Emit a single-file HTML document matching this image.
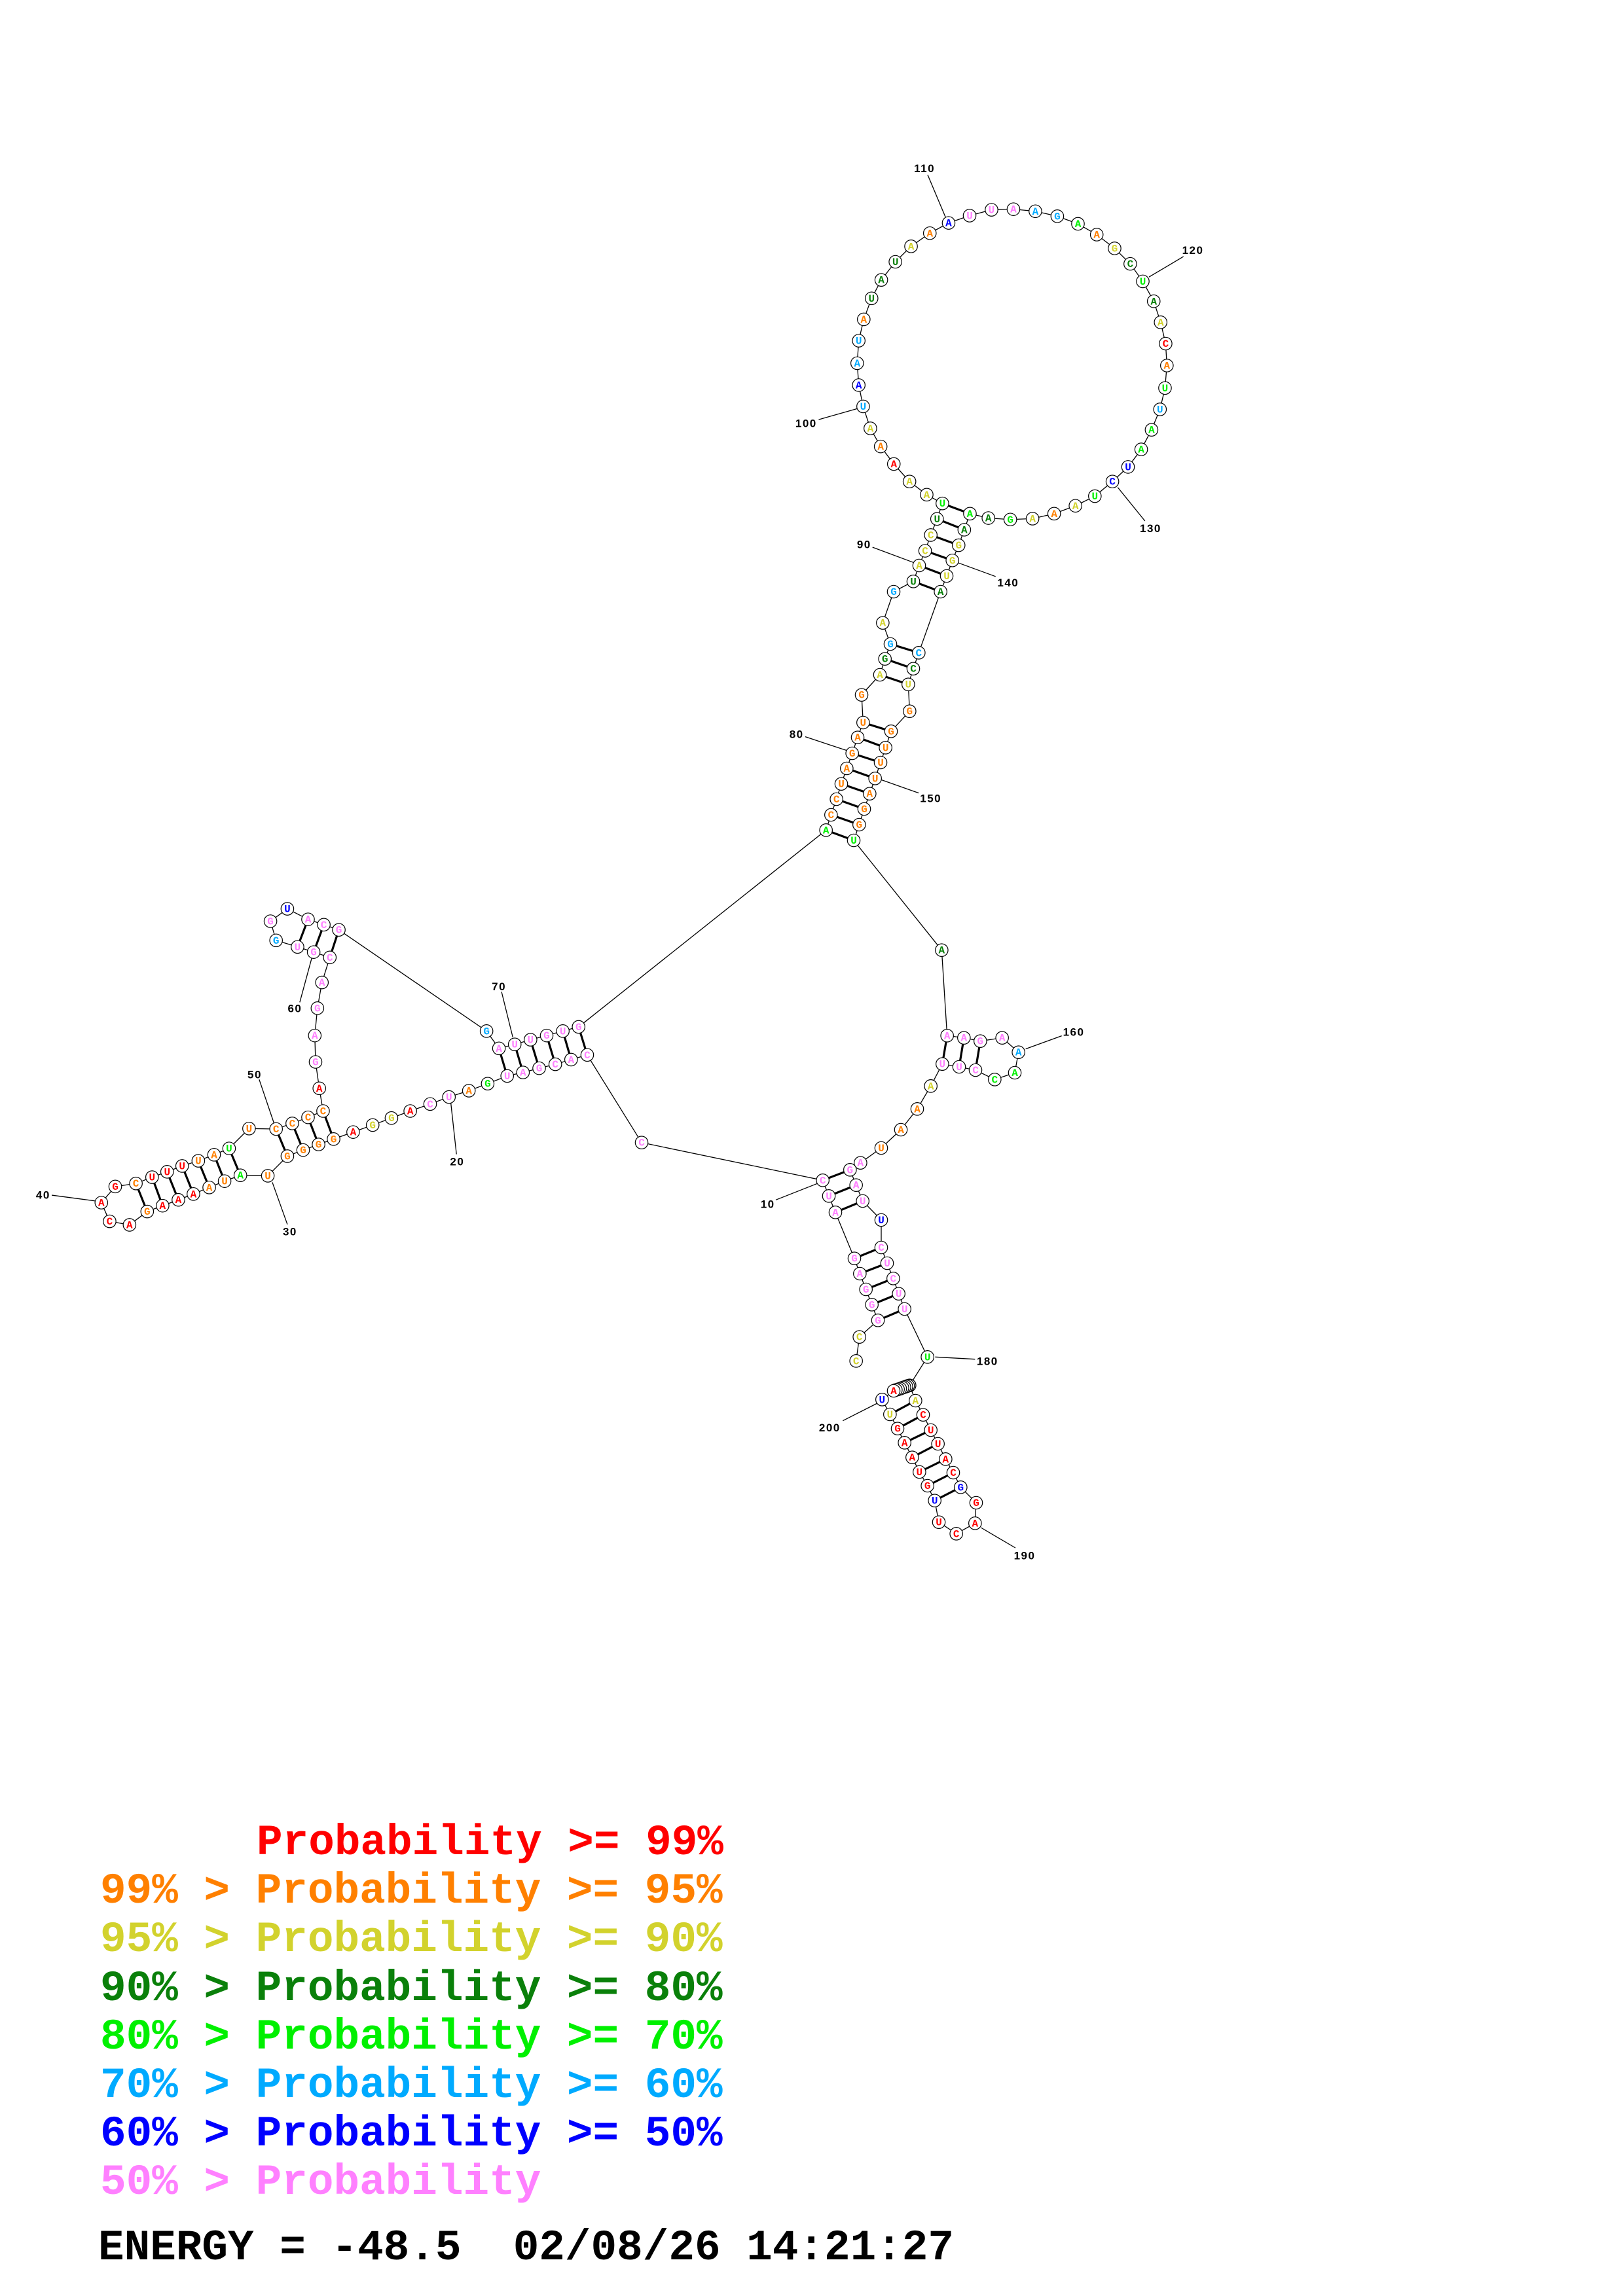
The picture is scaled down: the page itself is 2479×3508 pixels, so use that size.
<!DOCTYPE html>
<html><head><meta charset="utf-8"><style>
html,body{margin:0;padding:0;background:#fff}
svg{display:block}
.bb{fill:none;stroke:#000;stroke-width:1.3px;vector-effect:non-scaling-stroke}
.pr{fill:none;stroke:#000;stroke-width:3.2px;vector-effect:non-scaling-stroke}
circle{fill:#fff;stroke:#000;stroke-width:1.2px;vector-effect:non-scaling-stroke}
.n text{font-family:"Liberation Mono",monospace;font-weight:bold;font-size:16px;text-anchor:middle}
.lb{font-family:"Liberation Sans",sans-serif;font-weight:bold;font-size:17px;letter-spacing:1.5px;text-anchor:middle;fill:#000}
.r{fill:#ff0000}.o{fill:#ff8000}.y{fill:#d2d22d}.d{fill:#0a800a}.l{fill:#00f000}.s{fill:#00aaff}.b{fill:#0000ff}.p{fill:#ff80ff}
.lg{font-family:"Liberation Mono",monospace;font-weight:bold;font-size:66px;white-space:pre}
</style></head><body>
<svg width="2479" height="3508" viewBox="0 0 2479 3508" xmlns="http://www.w3.org/2000/svg">
<rect width="2479" height="3508" fill="#fff"/>
<!-- cross-group lines -->
<path class="bb" d="M980 1745.7L897 1612M883.8 1569L1261.7 1268.3M1404 864L1413.1 841.5M1454.7 856.3L1446 880"/>

<!-- GROUP A (loop) -->
<g transform="translate(1150 200) scale(0.47831 0.44643)">
<polyline class="bb" points="550,1437 568,1383 588,1328 605,1275 555,1245 500,1200 450,1140 408,1080 375,1018 352,943 338,870 333,795 338,718 354,645 379,573 410,510 455,448 505,395 565,350 625,315 692,290 762,270 832,268 902,275 972,292 1038,318 1098,355 1155,402 1205,455 1245,515 1280,583 1302,655 1318,728 1322,803 1316,880 1300,953 1273,1023 1240,1090 1198,1150 1148,1200 1092,1250 1030,1283 962,1310 893,1327 822,1330 752,1325 693,1310 675,1365 657,1418 637,1470"/>
<path class="pr" d="M550 1437L637 1470M568 1383L657 1418M588 1328L675 1365M605 1275L693 1310"/>
<path class="bb" d="M558 150L615 295M1375 430L1265 500M210 988L335 950M1252 1335L1165 1220M382 1425L515 1478M775 1525L655 1478"/>
<g transform="translate(548 128) scale(2.0907 2.24)"><text class="lb" y="6">110</text></g>
<g transform="translate(1405 408) scale(2.0907 2.24)"><text class="lb" y="6">120</text></g>
<g transform="translate(170 1000) scale(2.0907 2.24)"><text class="lb" y="6">100</text></g>
<g transform="translate(1270 1360) scale(2.0907 2.24)"><text class="lb" y="6">130</text></g>
<g transform="translate(355 1415) scale(2.0907 2.24)"><text class="lb" y="6">90</text></g>
<g transform="translate(815 1545) scale(2.0907 2.24)"><text class="lb" y="6">140</text></g>
<g class="n">
<g transform="translate(550 1437) scale(2.0907 2.24)"><circle r="9.7"/><text class="y" y="5">C</text></g>
<g transform="translate(568 1383) scale(2.0907 2.24)"><circle r="9.7"/><text class="y" y="5">C</text></g>
<g transform="translate(588 1328) scale(2.0907 2.24)"><circle r="9.7"/><text class="d" y="5">U</text></g>
<g transform="translate(605 1275) scale(2.0907 2.24)"><circle r="9.7"/><text class="l" y="5">U</text></g>
<g transform="translate(555 1245) scale(2.0907 2.24)"><circle r="9.7"/><text class="y" y="5">A</text></g>
<g transform="translate(500 1200) scale(2.0907 2.24)"><circle r="9.7"/><text class="y" y="5">A</text></g>
<g transform="translate(450 1140) scale(2.0907 2.24)"><circle r="9.7"/><text class="r" y="5">A</text></g>
<g transform="translate(408 1080) scale(2.0907 2.24)"><circle r="9.7"/><text class="o" y="5">A</text></g>
<g transform="translate(375 1018) scale(2.0907 2.24)"><circle r="9.7"/><text class="y" y="5">A</text></g>
<g transform="translate(352 943) scale(2.0907 2.24)"><circle r="9.7"/><text class="s" y="5">U</text></g>
<g transform="translate(338 870) scale(2.0907 2.24)"><circle r="9.7"/><text class="b" y="5">A</text></g>
<g transform="translate(333 795) scale(2.0907 2.24)"><circle r="9.7"/><text class="s" y="5">A</text></g>
<g transform="translate(338 718) scale(2.0907 2.24)"><circle r="9.7"/><text class="s" y="5">U</text></g>
<g transform="translate(354 645) scale(2.0907 2.24)"><circle r="9.7"/><text class="o" y="5">A</text></g>
<g transform="translate(379 573) scale(2.0907 2.24)"><circle r="9.7"/><text class="d" y="5">U</text></g>
<g transform="translate(410 510) scale(2.0907 2.24)"><circle r="9.7"/><text class="d" y="5">A</text></g>
<g transform="translate(455 448) scale(2.0907 2.24)"><circle r="9.7"/><text class="d" y="5">U</text></g>
<g transform="translate(505 395) scale(2.0907 2.24)"><circle r="9.7"/><text class="y" y="5">A</text></g>
<g transform="translate(565 350) scale(2.0907 2.24)"><circle r="9.7"/><text class="o" y="5">A</text></g>
<g transform="translate(625 315) scale(2.0907 2.24)"><circle r="9.7"/><text class="b" y="5">A</text></g>
<g transform="translate(692 290) scale(2.0907 2.24)"><circle r="9.7"/><text class="p" y="5">U</text></g>
<g transform="translate(762 270) scale(2.0907 2.24)"><circle r="9.7"/><text class="p" y="5">U</text></g>
<g transform="translate(832 268) scale(2.0907 2.24)"><circle r="9.7"/><text class="p" y="5">A</text></g>
<g transform="translate(902 275) scale(2.0907 2.24)"><circle r="9.7"/><text class="s" y="5">A</text></g>
<g transform="translate(972 292) scale(2.0907 2.24)"><circle r="9.7"/><text class="s" y="5">G</text></g>
<g transform="translate(1038 318) scale(2.0907 2.24)"><circle r="9.7"/><text class="l" y="5">A</text></g>
<g transform="translate(1098 355) scale(2.0907 2.24)"><circle r="9.7"/><text class="o" y="5">A</text></g>
<g transform="translate(1155 402) scale(2.0907 2.24)"><circle r="9.7"/><text class="y" y="5">G</text></g>
<g transform="translate(1205 455) scale(2.0907 2.24)"><circle r="9.7"/><text class="d" y="5">C</text></g>
<g transform="translate(1245 515) scale(2.0907 2.24)"><circle r="9.7"/><text class="l" y="5">U</text></g>
<g transform="translate(1280 583) scale(2.0907 2.24)"><circle r="9.7"/><text class="d" y="5">A</text></g>
<g transform="translate(1302 655) scale(2.0907 2.24)"><circle r="9.7"/><text class="y" y="5">A</text></g>
<g transform="translate(1318 728) scale(2.0907 2.24)"><circle r="9.7"/><text class="r" y="5">C</text></g>
<g transform="translate(1322 803) scale(2.0907 2.24)"><circle r="9.7"/><text class="o" y="5">A</text></g>
<g transform="translate(1316 880) scale(2.0907 2.24)"><circle r="9.7"/><text class="l" y="5">U</text></g>
<g transform="translate(1300 953) scale(2.0907 2.24)"><circle r="9.7"/><text class="s" y="5">U</text></g>
<g transform="translate(1273 1023) scale(2.0907 2.24)"><circle r="9.7"/><text class="l" y="5">A</text></g>
<g transform="translate(1240 1090) scale(2.0907 2.24)"><circle r="9.7"/><text class="l" y="5">A</text></g>
<g transform="translate(1198 1150) scale(2.0907 2.24)"><circle r="9.7"/><text class="b" y="5">U</text></g>
<g transform="translate(1148 1200) scale(2.0907 2.24)"><circle r="9.7"/><text class="b" y="5">C</text></g>
<g transform="translate(1092 1250) scale(2.0907 2.24)"><circle r="9.7"/><text class="l" y="5">U</text></g>
<g transform="translate(1030 1283) scale(2.0907 2.24)"><circle r="9.7"/><text class="y" y="5">A</text></g>
<g transform="translate(962 1310) scale(2.0907 2.24)"><circle r="9.7"/><text class="o" y="5">A</text></g>
<g transform="translate(893 1327) scale(2.0907 2.24)"><circle r="9.7"/><text class="y" y="5">A</text></g>
<g transform="translate(822 1330) scale(2.0907 2.24)"><circle r="9.7"/><text class="l" y="5">G</text></g>
<g transform="translate(752 1325) scale(2.0907 2.24)"><circle r="9.7"/><text class="d" y="5">A</text></g>
<g transform="translate(693 1310) scale(2.0907 2.24)"><circle r="9.7"/><text class="l" y="5">A</text></g>
<g transform="translate(675 1365) scale(2.0907 2.24)"><circle r="9.7"/><text class="d" y="5">A</text></g>
<g transform="translate(657 1418) scale(2.0907 2.24)"><circle r="9.7"/><text class="y" y="5">G</text></g>
<g transform="translate(637 1470) scale(2.0907 2.24)"><circle r="9.7"/><text class="y" y="5">G</text></g>
</g>
</g>

<!-- GROUP C (left) -->
<g transform="translate(40 1360) scale(0.57399 0.35714)">
<polyline class="bb" points="1493,705 1450,725 1408,745 1365,762 1322,780 1280,795 1228,828 1178,858 1125,885 1075,915 1022,945 972,975 922,1005 870,1035 818,1065 778,1088 737,1112 695,1138 643,1222 570,1220 528,1245 487,1272 445,1300 405,1325 363,1350 322,1375 275,1432 222,1417 200,1337 237,1268 292,1255 335,1228 375,1205 415,1180 458,1158 500,1132 540,1105 593,1020 665,1022 708,998 750,972 790,945 780,848 770,735 768,622 775,505 787,395 808,288 765,265 722,243 665,215 650,133 695,80 750,125 792,148 832,170 1225,603 1258,677 1300,660 1342,640 1385,622 1428,603 1470,585"/>
<path class="pr" d="M1493 705L1470 585M1450 725L1428 603M1408 745L1385 622M1365 762L1342 640M1322 780L1300 660M1280 795L1258 677M818 1065L790 945M778 1088L750 972M737 1112L708 998M695 1138L665 1022M570 1220L540 1105M528 1245L500 1132M487 1272L458 1158M445 1300L415 1180M405 1325L375 1205M363 1350L335 1228M322 1375L292 1255M808 288L832 170M765 265L792 148M722 243L750 125"/>
<path class="bb" d="M1265 435L1295 630M728 480L760 290M620 810L660 1000M68 1305L185 1330M695 1430L655 1250M1145 1130L1130 910"/>
<g transform="translate(1258 412) scale(1.7422 2.8)"><text class="lb" y="6">70</text></g>
<g transform="translate(715 505) scale(1.7422 2.8)"><text class="lb" y="6">60</text></g>
<g transform="translate(608 788) scale(1.7422 2.8)"><text class="lb" y="6">50</text></g>
<g transform="translate(45 1303) scale(1.7422 2.8)"><text class="lb" y="6">40</text></g>
<g transform="translate(702 1460) scale(1.7422 2.8)"><text class="lb" y="6">30</text></g>
<g transform="translate(1147 1160) scale(1.7422 2.8)"><text class="lb" y="6">20</text></g>
<g class="n">
<g transform="translate(1493 705) scale(1.7422 2.8)"><circle r="9.7"/><text class="p" y="5">C</text></g>
<g transform="translate(1450 725) scale(1.7422 2.8)"><circle r="9.7"/><text class="p" y="5">A</text></g>
<g transform="translate(1408 745) scale(1.7422 2.8)"><circle r="9.7"/><text class="p" y="5">C</text></g>
<g transform="translate(1365 762) scale(1.7422 2.8)"><circle r="9.7"/><text class="p" y="5">G</text></g>
<g transform="translate(1322 780) scale(1.7422 2.8)"><circle r="9.7"/><text class="p" y="5">A</text></g>
<g transform="translate(1280 795) scale(1.7422 2.8)"><circle r="9.7"/><text class="p" y="5">U</text></g>
<g transform="translate(1228 828) scale(1.7422 2.8)"><circle r="9.7"/><text class="l" y="5">G</text></g>
<g transform="translate(1178 858) scale(1.7422 2.8)"><circle r="9.7"/><text class="o" y="5">A</text></g>
<g transform="translate(1125 885) scale(1.7422 2.8)"><circle r="9.7"/><text class="p" y="5">U</text></g>
<g transform="translate(1075 915) scale(1.7422 2.8)"><circle r="9.7"/><text class="p" y="5">C</text></g>
<g transform="translate(1022 945) scale(1.7422 2.8)"><circle r="9.7"/><text class="r" y="5">A</text></g>
<g transform="translate(972 975) scale(1.7422 2.8)"><circle r="9.7"/><text class="y" y="5">G</text></g>
<g transform="translate(922 1005) scale(1.7422 2.8)"><circle r="9.7"/><text class="y" y="5">G</text></g>
<g transform="translate(870 1035) scale(1.7422 2.8)"><circle r="9.7"/><text class="r" y="5">A</text></g>
<g transform="translate(818 1065) scale(1.7422 2.8)"><circle r="9.7"/><text class="o" y="5">G</text></g>
<g transform="translate(778 1088) scale(1.7422 2.8)"><circle r="9.7"/><text class="o" y="5">G</text></g>
<g transform="translate(737 1112) scale(1.7422 2.8)"><circle r="9.7"/><text class="o" y="5">G</text></g>
<g transform="translate(695 1138) scale(1.7422 2.8)"><circle r="9.7"/><text class="o" y="5">G</text></g>
<g transform="translate(643 1222) scale(1.7422 2.8)"><circle r="9.7"/><text class="o" y="5">U</text></g>
<g transform="translate(570 1220) scale(1.7422 2.8)"><circle r="9.7"/><text class="l" y="5">A</text></g>
<g transform="translate(528 1245) scale(1.7422 2.8)"><circle r="9.7"/><text class="o" y="5">U</text></g>
<g transform="translate(487 1272) scale(1.7422 2.8)"><circle r="9.7"/><text class="o" y="5">A</text></g>
<g transform="translate(445 1300) scale(1.7422 2.8)"><circle r="9.7"/><text class="r" y="5">A</text></g>
<g transform="translate(405 1325) scale(1.7422 2.8)"><circle r="9.7"/><text class="r" y="5">A</text></g>
<g transform="translate(363 1350) scale(1.7422 2.8)"><circle r="9.7"/><text class="r" y="5">A</text></g>
<g transform="translate(322 1375) scale(1.7422 2.8)"><circle r="9.7"/><text class="o" y="5">G</text></g>
<g transform="translate(275 1432) scale(1.7422 2.8)"><circle r="9.7"/><text class="r" y="5">A</text></g>
<g transform="translate(222 1417) scale(1.7422 2.8)"><circle r="9.7"/><text class="r" y="5">C</text></g>
<g transform="translate(200 1337) scale(1.7422 2.8)"><circle r="9.7"/><text class="r" y="5">A</text></g>
<g transform="translate(237 1268) scale(1.7422 2.8)"><circle r="9.7"/><text class="r" y="5">G</text></g>
<g transform="translate(292 1255) scale(1.7422 2.8)"><circle r="9.7"/><text class="o" y="5">C</text></g>
<g transform="translate(335 1228) scale(1.7422 2.8)"><circle r="9.7"/><text class="r" y="5">U</text></g>
<g transform="translate(375 1205) scale(1.7422 2.8)"><circle r="9.7"/><text class="r" y="5">U</text></g>
<g transform="translate(415 1180) scale(1.7422 2.8)"><circle r="9.7"/><text class="r" y="5">U</text></g>
<g transform="translate(458 1158) scale(1.7422 2.8)"><circle r="9.7"/><text class="o" y="5">U</text></g>
<g transform="translate(500 1132) scale(1.7422 2.8)"><circle r="9.7"/><text class="o" y="5">A</text></g>
<g transform="translate(540 1105) scale(1.7422 2.8)"><circle r="9.7"/><text class="l" y="5">U</text></g>
<g transform="translate(593 1020) scale(1.7422 2.8)"><circle r="9.7"/><text class="o" y="5">U</text></g>
<g transform="translate(665 1022) scale(1.7422 2.8)"><circle r="9.7"/><text class="o" y="5">C</text></g>
<g transform="translate(708 998) scale(1.7422 2.8)"><circle r="9.7"/><text class="o" y="5">C</text></g>
<g transform="translate(750 972) scale(1.7422 2.8)"><circle r="9.7"/><text class="o" y="5">C</text></g>
<g transform="translate(790 945) scale(1.7422 2.8)"><circle r="9.7"/><text class="o" y="5">C</text></g>
<g transform="translate(780 848) scale(1.7422 2.8)"><circle r="9.7"/><text class="r" y="5">A</text></g>
<g transform="translate(770 735) scale(1.7422 2.8)"><circle r="9.7"/><text class="p" y="5">G</text></g>
<g transform="translate(768 622) scale(1.7422 2.8)"><circle r="9.7"/><text class="p" y="5">A</text></g>
<g transform="translate(775 505) scale(1.7422 2.8)"><circle r="9.7"/><text class="p" y="5">G</text></g>
<g transform="translate(787 395) scale(1.7422 2.8)"><circle r="9.7"/><text class="p" y="5">A</text></g>
<g transform="translate(808 288) scale(1.7422 2.8)"><circle r="9.7"/><text class="p" y="5">C</text></g>
<g transform="translate(765 265) scale(1.7422 2.8)"><circle r="9.7"/><text class="p" y="5">G</text></g>
<g transform="translate(722 243) scale(1.7422 2.8)"><circle r="9.7"/><text class="p" y="5">U</text></g>
<g transform="translate(665 215) scale(1.7422 2.8)"><circle r="9.7"/><text class="s" y="5">G</text></g>
<g transform="translate(650 133) scale(1.7422 2.8)"><circle r="9.7"/><text class="p" y="5">G</text></g>
<g transform="translate(695 80) scale(1.7422 2.8)"><circle r="9.7"/><text class="b" y="5">U</text></g>
<g transform="translate(750 125) scale(1.7422 2.8)"><circle r="9.7"/><text class="p" y="5">A</text></g>
<g transform="translate(792 148) scale(1.7422 2.8)"><circle r="9.7"/><text class="p" y="5">C</text></g>
<g transform="translate(832 170) scale(1.7422 2.8)"><circle r="9.7"/><text class="p" y="5">G</text></g>
<g transform="translate(1225 603) scale(1.7422 2.8)"><circle r="9.7"/><text class="s" y="5">G</text></g>
<g transform="translate(1258 677) scale(1.7422 2.8)"><circle r="9.7"/><text class="p" y="5">A</text></g>
<g transform="translate(1300 660) scale(1.7422 2.8)"><circle r="9.7"/><text class="p" y="5">U</text></g>
<g transform="translate(1342 640) scale(1.7422 2.8)"><circle r="9.7"/><text class="p" y="5">U</text></g>
<g transform="translate(1385 622) scale(1.7422 2.8)"><circle r="9.7"/><text class="p" y="5">G</text></g>
<g transform="translate(1428 603) scale(1.7422 2.8)"><circle r="9.7"/><text class="p" y="5">U</text></g>
<g transform="translate(1470 585) scale(1.7422 2.8)"><circle r="9.7"/><text class="p" y="5">G</text></g>
</g>
</g>

<!-- GROUP B (right / stems / bottom) -->
<g transform="translate(1150 850) scale(0.333333)">
<polyline class="bb" points="473,3688 488,3578 573,3502 545,3430 518,3360 490,3288 465,3218 378,3007 348,2932 320,2860 -510,2687"/>
<polyline class="bb" points="335,1255 358,1185 383,1113 405,1043 430,972 455,903 480,830 505,762 498,635 582,543 605,470 630,402 595,305 645,162 735,115 762,42"/>
<polyline class="bb" points="888,90 860,162 760,442 735,515 712,587 718,710 633,802 608,877 585,945 560,1018 535,1088 510,1158 487,1230 462,1302 865,1805 890,2197 967,2207 1042,2222 1142,2207 1217,2273 1200,2367 1108,2398 1020,2355 945,2340 868,2327 815,2428 753,2533 678,2628 588,2712 493,2780 445,2812 473,2882 503,2955 588,3042 588,3168 615,3240 643,3310 668,3380 695,3450 800,3670 718,3800 745,3870 780,3935 815,4005 848,4068 883,4138 918,4200 952,4267 1023,4338 1018,4432 932,4480 852,4427 833,4328 800,4260 763,4197 730,4130 695,4063 663,3998 628,3933 592,3865 645,3825 655,3821 665,3818 675,3815 685,3811 694,3808 703,3805 711,3802"/>
<path class="pr" d="M573 3502L695 3450M545 3430L668 3380M518 3360L643 3310M490 3288L615 3240M465 3218L588 3168M378 3007L503 2955M348 2932L473 2882M320 2860L445 2812M335 1255L462 1302M358 1185L487 1230M383 1113L510 1158M405 1043L535 1088M430 972L560 1018M455 903L585 945M480 830L608 877M505 762L633 802M582 543L712 587M605 470L735 515M630 402L760 442M735 115L860 162M762 42L888 90M890 2197L868 2327M967 2207L945 2340M1042 2222L1020 2355M745 3870L628 3933M780 3935L663 3998M815 4005L695 4063M848 4068L730 4130M883 4138L763 4197M918 4200L800 4260M952 4267L833 4328"/>
<path class="bb" d="M240 827L430 890M760 1085L590 1025M1415 2198L1250 2258M105 2950L295 2875M835 3670L1018 3680M412 3962L570 3882M1203 4545L1045 4452"/>
<g transform="translate(200 815) scale(3)"><text class="lb" y="6">80</text></g>
<g transform="translate(815 1108) scale(3)"><text class="lb" y="6">150</text></g>
<g transform="translate(1470 2180) scale(3)"><text class="lb" y="6">160</text></g>
<g transform="translate(68 2968) scale(3)"><text class="lb" y="6">10</text></g>
<g transform="translate(1075 3688) scale(3)"><text class="lb" y="6">180</text></g>
<g transform="translate(352 3993) scale(3)"><text class="lb" y="6">200</text></g>
<g transform="translate(1245 4580) scale(3)"><text class="lb" y="6">190</text></g>
<g class="n">
<g transform="translate(473 3688) scale(3)"><circle r="9.7"/><text class="y" y="5">C</text></g>
<g transform="translate(488 3578) scale(3)"><circle r="9.7"/><text class="y" y="5">C</text></g>
<g transform="translate(573 3502) scale(3)"><circle r="9.7"/><text class="p" y="5">G</text></g>
<g transform="translate(545 3430) scale(3)"><circle r="9.7"/><text class="p" y="5">G</text></g>
<g transform="translate(518 3360) scale(3)"><circle r="9.7"/><text class="p" y="5">G</text></g>
<g transform="translate(490 3288) scale(3)"><circle r="9.7"/><text class="p" y="5">A</text></g>
<g transform="translate(465 3218) scale(3)"><circle r="9.7"/><text class="p" y="5">G</text></g>
<g transform="translate(378 3007) scale(3)"><circle r="9.7"/><text class="p" y="5">A</text></g>
<g transform="translate(348 2932) scale(3)"><circle r="9.7"/><text class="p" y="5">U</text></g>
<g transform="translate(320 2860) scale(3)"><circle r="9.7"/><text class="p" y="5">C</text></g>
<g transform="translate(-510 2687) scale(3)"><circle r="9.7"/><text class="p" y="5">C</text></g>
<g transform="translate(335 1255) scale(3)"><circle r="9.7"/><text class="l" y="5">A</text></g>
<g transform="translate(358 1185) scale(3)"><circle r="9.7"/><text class="o" y="5">C</text></g>
<g transform="translate(383 1113) scale(3)"><circle r="9.7"/><text class="o" y="5">C</text></g>
<g transform="translate(405 1043) scale(3)"><circle r="9.7"/><text class="o" y="5">U</text></g>
<g transform="translate(430 972) scale(3)"><circle r="9.7"/><text class="o" y="5">A</text></g>
<g transform="translate(455 903) scale(3)"><circle r="9.7"/><text class="o" y="5">G</text></g>
<g transform="translate(480 830) scale(3)"><circle r="9.7"/><text class="o" y="5">A</text></g>
<g transform="translate(505 762) scale(3)"><circle r="9.7"/><text class="o" y="5">U</text></g>
<g transform="translate(498 635) scale(3)"><circle r="9.7"/><text class="o" y="5">G</text></g>
<g transform="translate(582 543) scale(3)"><circle r="9.7"/><text class="y" y="5">A</text></g>
<g transform="translate(605 470) scale(3)"><circle r="9.7"/><text class="d" y="5">G</text></g>
<g transform="translate(630 402) scale(3)"><circle r="9.7"/><text class="s" y="5">G</text></g>
<g transform="translate(595 305) scale(3)"><circle r="9.7"/><text class="y" y="5">A</text></g>
<g transform="translate(645 162) scale(3)"><circle r="9.7"/><text class="s" y="5">G</text></g>
<g transform="translate(735 115) scale(3)"><circle r="9.7"/><text class="d" y="5">U</text></g>
<g transform="translate(762 42) scale(3)"><circle r="9.7"/><text class="y" y="5">A</text></g>
<g transform="translate(888 90) scale(3)"><circle r="9.7"/><text class="y" y="5">U</text></g>
<g transform="translate(860 162) scale(3)"><circle r="9.7"/><text class="d" y="5">A</text></g>
<g transform="translate(760 442) scale(3)"><circle r="9.7"/><text class="s" y="5">C</text></g>
<g transform="translate(735 515) scale(3)"><circle r="9.7"/><text class="d" y="5">C</text></g>
<g transform="translate(712 587) scale(3)"><circle r="9.7"/><text class="y" y="5">U</text></g>
<g transform="translate(718 710) scale(3)"><circle r="9.7"/><text class="o" y="5">G</text></g>
<g transform="translate(633 802) scale(3)"><circle r="9.7"/><text class="o" y="5">G</text></g>
<g transform="translate(608 877) scale(3)"><circle r="9.7"/><text class="o" y="5">U</text></g>
<g transform="translate(585 945) scale(3)"><circle r="9.7"/><text class="o" y="5">U</text></g>
<g transform="translate(560 1018) scale(3)"><circle r="9.7"/><text class="o" y="5">U</text></g>
<g transform="translate(535 1088) scale(3)"><circle r="9.7"/><text class="o" y="5">A</text></g>
<g transform="translate(510 1158) scale(3)"><circle r="9.7"/><text class="o" y="5">G</text></g>
<g transform="translate(487 1230) scale(3)"><circle r="9.7"/><text class="o" y="5">G</text></g>
<g transform="translate(462 1302) scale(3)"><circle r="9.7"/><text class="l" y="5">U</text></g>
<g transform="translate(865 1805) scale(3)"><circle r="9.7"/><text class="d" y="5">A</text></g>
<g transform="translate(890 2197) scale(3)"><circle r="9.7"/><text class="p" y="5">A</text></g>
<g transform="translate(967 2207) scale(3)"><circle r="9.7"/><text class="p" y="5">A</text></g>
<g transform="translate(1042 2222) scale(3)"><circle r="9.7"/><text class="p" y="5">G</text></g>
<g transform="translate(1142 2207) scale(3)"><circle r="9.7"/><text class="p" y="5">A</text></g>
<g transform="translate(1217 2273) scale(3)"><circle r="9.7"/><text class="s" y="5">A</text></g>
<g transform="translate(1200 2367) scale(3)"><circle r="9.7"/><text class="l" y="5">A</text></g>
<g transform="translate(1108 2398) scale(3)"><circle r="9.7"/><text class="l" y="5">C</text></g>
<g transform="translate(1020 2355) scale(3)"><circle r="9.7"/><text class="p" y="5">C</text></g>
<g transform="translate(945 2340) scale(3)"><circle r="9.7"/><text class="p" y="5">U</text></g>
<g transform="translate(868 2327) scale(3)"><circle r="9.7"/><text class="p" y="5">U</text></g>
<g transform="translate(815 2428) scale(3)"><circle r="9.7"/><text class="y" y="5">A</text></g>
<g transform="translate(753 2533) scale(3)"><circle r="9.7"/><text class="o" y="5">A</text></g>
<g transform="translate(678 2628) scale(3)"><circle r="9.7"/><text class="o" y="5">A</text></g>
<g transform="translate(588 2712) scale(3)"><circle r="9.7"/><text class="o" y="5">U</text></g>
<g transform="translate(493 2780) scale(3)"><circle r="9.7"/><text class="p" y="5">A</text></g>
<g transform="translate(445 2812) scale(3)"><circle r="9.7"/><text class="p" y="5">G</text></g>
<g transform="translate(473 2882) scale(3)"><circle r="9.7"/><text class="p" y="5">A</text></g>
<g transform="translate(503 2955) scale(3)"><circle r="9.7"/><text class="p" y="5">U</text></g>
<g transform="translate(588 3042) scale(3)"><circle r="9.7"/><text class="b" y="5">U</text></g>
<g transform="translate(588 3168) scale(3)"><circle r="9.7"/><text class="p" y="5">C</text></g>
<g transform="translate(615 3240) scale(3)"><circle r="9.7"/><text class="p" y="5">U</text></g>
<g transform="translate(643 3310) scale(3)"><circle r="9.7"/><text class="p" y="5">C</text></g>
<g transform="translate(668 3380) scale(3)"><circle r="9.7"/><text class="p" y="5">U</text></g>
<g transform="translate(695 3450) scale(3)"><circle r="9.7"/><text class="p" y="5">U</text></g>
<g transform="translate(800 3670) scale(3)"><circle r="9.7"/><text class="l" y="5">U</text></g>
<g transform="translate(745 3870) scale(3)"><circle r="9.7"/><text class="y" y="5">A</text></g>
<g transform="translate(780 3935) scale(3)"><circle r="9.7"/><text class="r" y="5">C</text></g>
<g transform="translate(815 4005) scale(3)"><circle r="9.7"/><text class="r" y="5">U</text></g>
<g transform="translate(848 4068) scale(3)"><circle r="9.7"/><text class="r" y="5">U</text></g>
<g transform="translate(883 4138) scale(3)"><circle r="9.7"/><text class="r" y="5">A</text></g>
<g transform="translate(918 4200) scale(3)"><circle r="9.7"/><text class="r" y="5">C</text></g>
<g transform="translate(952 4267) scale(3)"><circle r="9.7"/><text class="b" y="5">G</text></g>
<g transform="translate(1023 4338) scale(3)"><circle r="9.7"/><text class="r" y="5">G</text></g>
<g transform="translate(1018 4432) scale(3)"><circle r="9.7"/><text class="r" y="5">A</text></g>
<g transform="translate(932 4480) scale(3)"><circle r="9.7"/><text class="r" y="5">C</text></g>
<g transform="translate(852 4427) scale(3)"><circle r="9.7"/><text class="r" y="5">U</text></g>
<g transform="translate(833 4328) scale(3)"><circle r="9.7"/><text class="b" y="5">U</text></g>
<g transform="translate(800 4260) scale(3)"><circle r="9.7"/><text class="r" y="5">G</text></g>
<g transform="translate(763 4197) scale(3)"><circle r="9.7"/><text class="r" y="5">U</text></g>
<g transform="translate(730 4130) scale(3)"><circle r="9.7"/><text class="r" y="5">A</text></g>
<g transform="translate(695 4063) scale(3)"><circle r="9.7"/><text class="r" y="5">A</text></g>
<g transform="translate(663 3998) scale(3)"><circle r="9.7"/><text class="r" y="5">G</text></g>
<g transform="translate(628 3933) scale(3)"><circle r="9.7"/><text class="y" y="5">U</text></g>
<g transform="translate(592 3865) scale(3)"><circle r="9.7"/><text class="b" y="5">U</text></g>
<g transform="translate(718 3800) scale(3)"><circle r="9.7"/><text class="b" y="5">U</text></g>
<g transform="translate(711 3802) scale(3)"><circle r="9.7"/></g>
<g transform="translate(703 3805) scale(3)"><circle r="9.7"/></g>
<g transform="translate(694 3808) scale(3)"><circle r="9.7"/></g>
<g transform="translate(685 3811) scale(3)"><circle r="9.7"/></g>
<g transform="translate(675 3815) scale(3)"><circle r="9.7"/></g>
<g transform="translate(665 3818) scale(3)"><circle r="9.7"/></g>
<g transform="translate(655 3821) scale(3)"><circle r="9.7"/></g>
<g transform="translate(645 3825) scale(3)"><circle r="9.7"/><text class="r" y="5">A</text></g>
</g>
</g>

<!-- LEGEND -->
<text class="lg r" x="392" y="2833">Probability &gt;= 99%</text>
<text class="lg o" x="153" y="2907">99% &gt; Probability &gt;= 95%</text>
<text class="lg y" x="153" y="2981">95% &gt; Probability &gt;= 90%</text>
<text class="lg d" x="153" y="3056">90% &gt; Probability &gt;= 80%</text>
<text class="lg l" x="153" y="3130">80% &gt; Probability &gt;= 70%</text>
<text class="lg s" x="153" y="3204">70% &gt; Probability &gt;= 60%</text>
<text class="lg b" x="153" y="3278">60% &gt; Probability &gt;= 50%</text>
<text class="lg p" x="153" y="3352">50% &gt; Probability</text>
<text class="lg" x="150" y="3452" fill="#000">ENERGY = -48.5  02/08/26 14:21:27</text>
</svg>
</body></html>
